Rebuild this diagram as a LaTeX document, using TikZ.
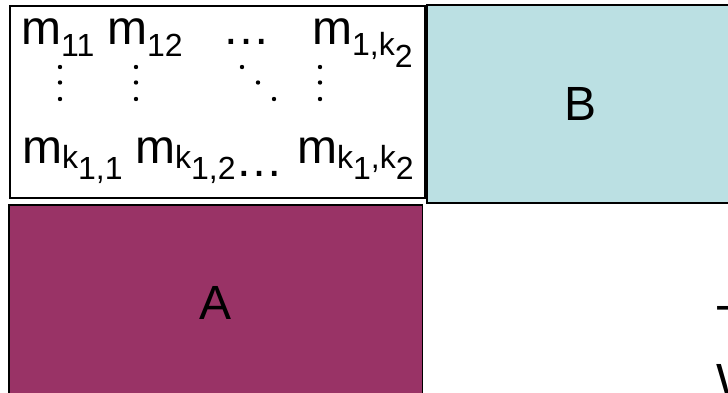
\documentclass[tikz,border=0pt]{standalone}
\usepackage{fontspec}
\setmainfont{Liberation Sans}
\definecolor{bblue}{HTML}{BBE0E3}
\definecolor{aplum}{HTML}{993366}
\newcommand{\lowsub}[2]{\raisebox{-#1pt}{\fontsize{32}{32}\selectfont #2}}
\begin{document}
\begin{tikzpicture}[x=1pt,y=-1pt,
  big/.style={font=\fontsize{48}{48}\selectfont},
  entry/.style={big,anchor=base west,inner sep=0pt},
  blockbox/.style={draw=black,rectangle,inner sep=0pt,big},
  vdot/.style={fill=black,draw=none}]
\useasboundingbox (0,0) rectangle (728,392);
\clip (0,0) rectangle (728,392);
% matrix box
\node[blockbox,fill=white,line width=2pt,minimum width=415.5pt,minimum height=192pt] (M) at (217.25,101.5) {};
% B box
\node[blockbox,fill=bblue,line width=2.4pt,minimum width=308pt,minimum height=198pt] (B) at (581,104) {B};
% A box
\node[blockbox,fill=aplum,line width=1.6pt,minimum width=413.5pt,minimum height=195pt] (A) at (215.75,302.5) {A};
% row 1
\node[entry] (m11) at (21,44) {m\lowsub{12}{11}};
\node[entry] (m12) at (107,44) {m\lowsub{12}{12}};
\node[entry] (h1) at (222,44) {…};
\node[entry] (m1k) at (312,44) {m\lowsub{11}{1,k\raisebox{-12pt}{2}}};
% vertical and diagonal dots
\foreach \x/\n in {60/a,136/b,320/d}{
  \fill[vdot] (\x,67) circle (2.2pt);
  \fill[vdot] (\x,82.5) circle (2.2pt);
  \fill[vdot] (\x,99) circle (2.2pt);
}
\fill[vdot] (242,67) circle (2.2pt);
\fill[vdot] (258,82.5) circle (2.2pt);
\fill[vdot] (274,99) circle (2.2pt);
% row 3
\node[entry] (mk1) at (22,163) {m\lowsub{5}{k\raisebox{-11pt}{1,1}}};
\node[entry] (mk2) at (135,163) {m\lowsub{5}{k\raisebox{-11pt}{1,2}}\raisebox{-13pt}{…}};
\node[entry] (mkk) at (297,163) {m\lowsub{5}{k\raisebox{-11pt}{1},k\raisebox{-11pt}{2}}};
% cut-off text on the right
\node[entry] (t1) at (716,339) {T};
\node[entry] (t2) at (716,397) {W};
\end{tikzpicture}
\end{document}
